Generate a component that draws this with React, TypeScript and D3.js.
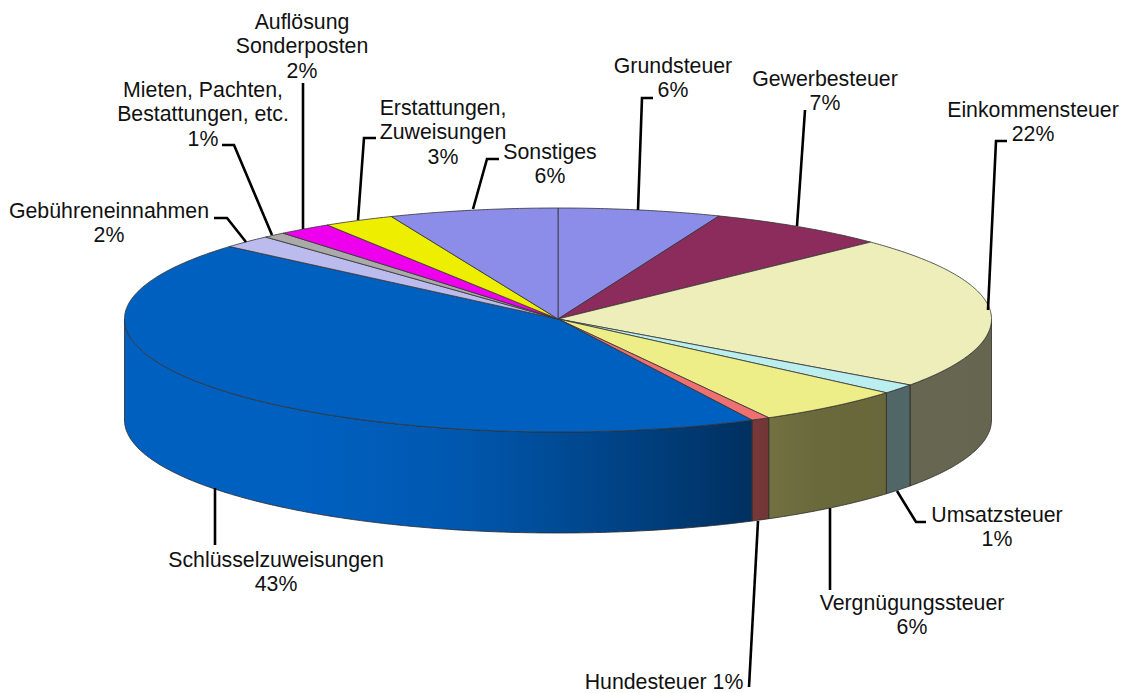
import React from 'react';
import * as d3 from 'd3';

const categories = [
  'Grundsteuer', 'Gewerbesteuer', 'Einkommensteuer', 'Umsatzsteuer', 'Vergnügungssteuer', 'Hundesteuer',
  'Schlüsselzuweisungen', 'Gebühreneinnahmen', 'Mieten', 'Auflösung', 'Erstattungen', 'Sonstiges',
];
// shares (the printed labels are rounded)
const shares = [6.06, 6.76, 22.1, 1.4, 5.6, 0.7, 43.7, 1.9, 0.85, 2.0, 2.65, 6.28];
const colors = [
  '#8c8ce9', '#8b2c5c', '#eeeebb', '#bbeeee', '#eeee88', '#ee7070',
  '#0060c0', '#bbbbee', '#aaaaaa', '#ee00ee', '#eeee00', '#8c8ce9',
];

const width = 1128;
const height = 693;
const cx = 558;
const cy = 319;
const rx = 433.5;
const ryBack = 111;
const ryFront = 113;
const depth = 101;

// side wall gets darker towards the right
const shadeX = [124, 300, 450, 600, 750, 800, 991];
const shadeK = [1, 1, 0.92, 0.72, 0.5, 0.44, 0.43];

// text lines + baseline of the first line, leader polyline
const labels = [
  { x: 673, y: 73, lines: ['Grundsteuer', '6%'], leader: [[638, 210], [642, 98], [653, 98]] },
  { x: 825, y: 86, lines: ['Gewerbesteuer', '7%'], leader: [[797, 226], [805, 110]] },
  { x: 1033, y: 117, lines: ['Einkommensteuer', '22%'], leader: [[988, 310], [996, 141], [1007, 141]] },
  { x: 997, y: 522, lines: ['Umsatzsteuer', '1%'], leader: [[897, 491], [916, 522], [926, 522]] },
  { x: 912, y: 610, lines: ['Vergnügungssteuer', '6%'], leader: [[830, 508], [830, 590]] },
  { x: 664, y: 689, lines: ['Hundesteuer 1%'], leader: [[758, 521], [749, 687]] },
  { x: 276, y: 567, lines: ['Schlüsselzuweisungen', '43%'], leader: [[215, 488], [215, 545]] },
  { x: 109, y: 218, lines: ['Gebühreneinnahmen', '2%'], leader: [[246, 242], [227, 218], [214, 218]] },
  { x: 203, y: 97, lines: ['Mieten, Pachten,', 'Bestattungen, etc.', '1%'], leader: [[272, 235], [234, 145], [222, 145]] },
  { x: 302, y: 29, lines: ['Auflösung', 'Sonderposten', '2%'], leader: [[303, 229], [303, 83]] },
  { x: 443, y: 115, lines: ['Erstattungen,', 'Zuweisungen', '3%'], leader: [[358, 220], [364, 138], [376, 138]] },
  { x: 550, y: 159, lines: ['Sonstiges', '6%'], leader: [[473, 209], [487, 159], [499, 159]] },
];

const rim = (a: number, dy = 0): [number, number] => {
  const c = Math.cos(a);
  return [cx + rx * Math.sin(a), cy - (c > 0 ? ryBack : ryFront) * c + dy];
};

const rimPoints = (a0: number, a1: number, dy = 0) => {
  const steps = Math.max(2, Math.ceil((a1 - a0) / 0.01));
  return d3.range(steps + 1).map((i) => rim(a0 + ((a1 - a0) * i) / steps, dy));
};

const line = d3.line();

export default function App() {
  const arcs = d3.pie<number>().sort(null).value((d) => d)(shares);
  const shade = d3.scaleLinear<number>().domain(shadeX).range(shadeK);

  const shadeStops = (color: string) =>
    d3.range(0, 21).map((i) => {
      const x = 124 + (867 * i) / 20;
      const k = shade(x);
      const c = d3.rgb(color);
      return (
        <stop
          key={i}
          offset={`${i * 5}%`}
          stopColor={d3.rgb(c.r * k, c.g * k, c.b * k).formatHex()}
        />
      );
    });

  return (
    <svg
      width={width}
      height={height}
      style={{ position: 'absolute', left: 0, top: 0, background: '#fff' }}
      fontFamily="'Liberation Sans', Arial, sans-serif"
    >
      <defs>
        {colors.map((c, i) => (
          <linearGradient key={i} id={`wall-${i}`} gradientUnits="userSpaceOnUse" x1={124} x2={991} y1={0} y2={0}>
            {shadeStops(c)}
          </linearGradient>
        ))}
      </defs>

      {/* side wall, front half only */}
      {arcs.map((d, i) => {
        const a0 = Math.max(d.startAngle, Math.PI / 2);
        const a1 = Math.min(d.endAngle, (3 * Math.PI) / 2);
        if (a1 <= a0) return null;
        const pts = [...rimPoints(a0, a1), ...rimPoints(a0, a1, depth).reverse()];
        return (
          <path
            key={categories[i]}
            d={`${line(pts)}Z`}
            fill={`url(#wall-${i})`}
            stroke="#2b2b2b"
            strokeWidth={0.8}
            strokeLinejoin="round"
          />
        );
      })}

      {/* top face */}
      {arcs.map((d, i) => (
        <path
          key={categories[i]}
          d={`${line([[cx, cy], ...rimPoints(d.startAngle, d.endAngle)])}Z`}
          fill={colors[i]}
          stroke="#333"
          strokeWidth={0.8}
          strokeLinejoin="round"
        />
      ))}

      {labels.map((l) => (
        <g key={l.lines[0]}>
          <path d={line(l.leader as [number, number][]) ?? ''} fill="none" stroke="#000" strokeWidth={2.6} />
          <text x={l.x} y={l.y} textAnchor="middle" fontSize={21.3} fill="#111">
            {l.lines.map((t, j) => (
              <tspan key={j} x={l.x} dy={j === 0 ? 0 : 24.4}>
                {t}
              </tspan>
            ))}
          </text>
        </g>
      ))}
    </svg>
  );
}
